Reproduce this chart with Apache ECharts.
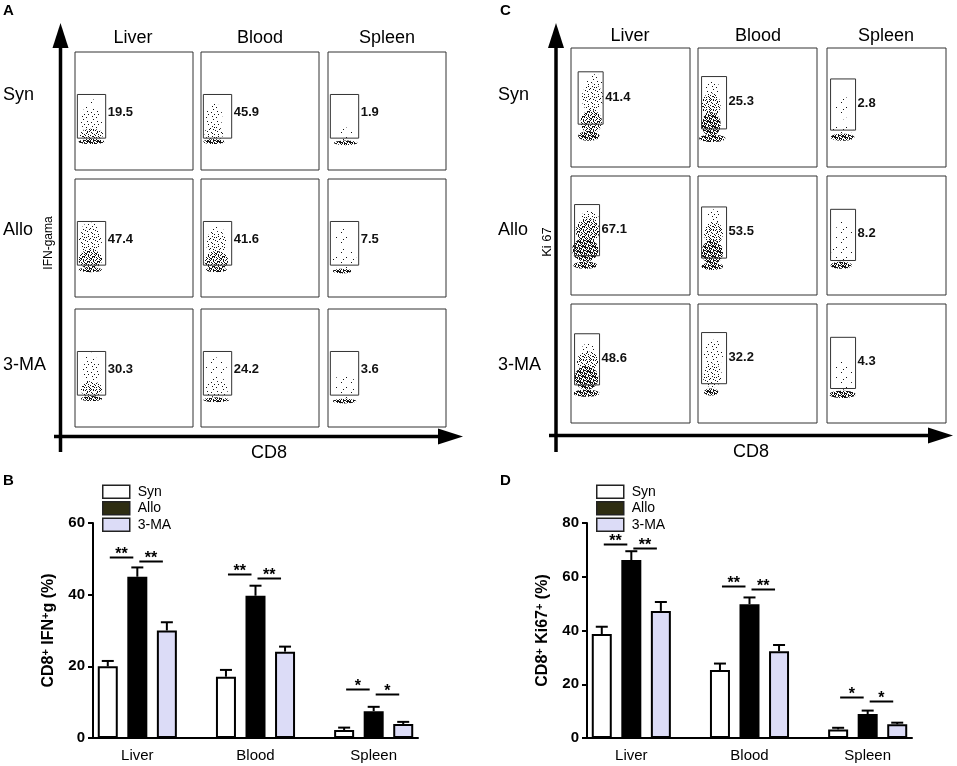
<!DOCTYPE html>
<html>
<head>
<meta charset="utf-8">
<script src="https://cdn.jsdelivr.net/npm/echarts/dist/echarts.min.js"></script>
<style>
html, body { margin: 0; padding: 0; background: #fff; }
#main { width: 957px; height: 766px; }
</style>
</head>
<body>
<div id="main"></div>
<script>
var organs = ['Liver', 'Blood', 'Spleen'];
var groups = ['Syn', 'Allo', '3-MA'];

// A: IFN-gama dot plots, order Syn/Allo/3-MA rows x Liver/Blood/Spleen columns
var ifnGateText = ['19.5', '45.9', '1.9', '47.4', '41.6', '7.5', '30.3', '24.2', '3.6'];
// gate [x0, x1, y0, y1] on a 0-100 scale
var ifnGates = [
    [2, 26, 27, 64], [2, 26, 27, 64], [2, 26, 27, 64],
    [2, 26, 27, 64], [2, 26, 27, 64], [2, 26, 27, 64],
    [2, 26, 27, 64], [2, 26, 27, 64], [2, 26, 27, 64]
];
// event clouds [cx, cy, rx, ry, density 1-6]
var ifnClouds = [
    [[14, 24, 11, 2, 6], [14, 30, 10, 5, 4], [14, 42, 9, 11, 2], [12, 55, 6, 6, 1]],
    [[11, 24, 9, 2, 6], [11, 31, 8, 6, 3], [11, 45, 7, 12, 2]],
    [[15, 23, 10, 2, 6], [15, 30, 8, 6, 1]],
    [[13, 23, 10, 2, 6], [13, 32, 10, 8, 5], [13, 48, 10, 11, 3], [13, 58, 7, 5, 2]],
    [[13, 23, 9, 2, 6], [13, 31, 10, 8, 5], [13, 46, 9, 10, 3], [13, 56, 6, 6, 1]],
    [[12, 22, 8, 2, 6], [14, 32, 10, 9, 1], [12, 50, 6, 8, 1]],
    [[14, 24, 9, 2, 6], [14, 32, 9, 7, 4], [14, 47, 8, 10, 2], [13, 58, 5, 5, 1]],
    [[13, 23, 11, 2, 6], [13, 32, 10, 7, 2], [13, 48, 9, 11, 1]],
    [[14, 22, 10, 2, 6], [14, 35, 9, 11, 1]]
];

// C: Ki 67 dot plots
var ki67GateText = ['41.4', '25.3', '2.8', '67.1', '53.5', '8.2', '48.6', '32.2', '4.3'];
var ki67Gates = [
    [6, 27, 36, 80], [3, 24, 32, 76], [3, 24, 31, 74],
    [3, 24, 33, 76], [3, 24, 31, 74], [3, 24, 29, 72],
    [3, 24, 32, 75], [3, 24, 33, 76], [3, 24, 29, 72]
];
var ki67Clouds = [
    [[15, 26, 9, 4, 6], [17, 38, 9, 10, 5], [18, 58, 9, 12, 3], [20, 72, 7, 6, 2]],
    [[12, 24, 11, 3, 6], [11, 36, 8, 10, 6], [11, 52, 8, 10, 4], [12, 66, 6, 7, 2]],
    [[13, 25, 10, 3, 6], [13, 32, 9, 5, 1], [13, 50, 6, 10, 1]],
    [[12, 25, 10, 3, 6], [12, 38, 11, 10, 6], [14, 54, 10, 10, 5], [16, 66, 7, 5, 3]],
    [[12, 24, 9, 3, 6], [12, 36, 9, 10, 6], [13, 52, 8, 10, 4], [14, 66, 6, 6, 2]],
    [[12, 25, 9, 3, 6], [13, 35, 9, 8, 1], [14, 52, 7, 10, 1]],
    [[13, 25, 11, 3, 6], [13, 38, 10, 10, 6], [14, 52, 9, 8, 4], [15, 62, 6, 5, 2]],
    [[11, 26, 6, 3, 6], [12, 40, 8, 10, 3], [13, 58, 8, 12, 2]],
    [[13, 24, 11, 3, 6], [14, 40, 8, 12, 1]]
];

// B: CD8+ IFN+g (%), Liver/Blood/Spleen
var ifnSyn = [20, 17.1, 2.2];
var ifnSynErr = [1.5, 1.9, 0.7];
var ifnAllo = [45, 39.7, 7.5];
var ifnAlloErr = [2.6, 2.8, 1.2];
var ifnMA = [30, 24.1, 3.9];
var ifnMAErr = [2.3, 1.4, 0.6];
// [slot from, slot to, height, mark]
var ifnSig = [[0, 1, 50.5, '**'], [1, 2, 49.4, '**'], [4, 5, 45.8, '**'], [5, 6, 44.6, '**'], [8, 9, 13.7, '*'], [9, 10, 12.3, '*']];

// D: CD8+ Ki67+ (%)
var ki67Syn = [38.7, 25.3, 3.2];
var ki67SynErr = [2.7, 2.4, 0.6];
var ki67Allo = [66.2, 49.8, 8.9];
var ki67AlloErr = [3.3, 2.5, 1.3];
var ki67MA = [47.3, 32.3, 5.1];
var ki67MAErr = [3.3, 2.3, 0.6];
var ki67Sig = [[0, 1, 72.1, '**'], [1, 2, 70.6, '**'], [4, 5, 56.5, '**'], [5, 6, 55.4, '**'], [8, 9, 15.2, '*'], [9, 10, 13.8, '*']];

var FONT = '"Liberation Sans", Arial, sans-serif';

// dotted textures for the event clouds
var tileDots = [[1, 2], [6, 7], [3, 9], [8, 4], [2, 6], [7, 1], [4, 4], [9, 9], [0, 8], [5, 0], [2, 3], [8, 6],
    [4, 7], [9, 1], [0, 5], [6, 9], [3, 0], [6, 3], [9, 7], [1, 9], [5, 5], [3, 6], [7, 2], [0, 0]];
var tileShifts = [[0, 0], [5, 5], [2, 7], [7, 2]];
function makeTile(n, copies) {
    var c = document.createElement('canvas');
    c.width = 10; c.height = 10;
    var ctx = c.getContext('2d');
    ctx.fillStyle = '#141414';
    for (var k = 0; k < copies; k++) {
        for (var i = 0; i < n; i++) {
            ctx.fillRect((tileDots[i][0] + tileShifts[k][0]) % 10, (tileDots[i][1] + tileShifts[k][1]) % 10, 1, 1);
        }
    }
    return c;
}
var tiles = [null, makeTile(3, 1), makeTile(7, 1), makeTile(13, 1), makeTile(24, 1), makeTile(24, 2), makeTile(24, 4)];

function renderCloud(params, api) {
    var c = api.coord([api.value(0), api.value(1)]);
    var s = api.size([api.value(2), api.value(3)]);
    return {
        type: 'ellipse',
        shape: { cx: c[0], cy: c[1], rx: s[0], ry: s[1] },
        style: { fill: { image: tiles[api.value(4)], repeat: 'repeat' } },
        silent: true
    };
}

function gateRenderer(text, labelOff) {
    return function (params, api) {
        var p0 = api.coord([api.value(0), api.value(3)]);
        var p1 = api.coord([api.value(1), api.value(2)]);
        return {
            type: 'group',
            children: [{
                type: 'rect',
                shape: { x: p0[0], y: p0[1], width: p1[0] - p0[0], height: p1[1] - p0[1] },
                style: { fill: 'none', stroke: '#333', lineWidth: 1 }
            }, {
                type: 'text',
                x: p1[0] + 2,
                y: (p0[1] + p1[1]) / 2 + labelOff,
                style: { text: text, font: 'bold 13px ' + FONT, fill: '#111', verticalAlign: 'middle' }
            }]
        };
    };
}

var grids = [], xAxes = [], yAxes = [], series = [];

function addFlow(lefts, tops, size, gates, clouds, texts, labelOff) {
    for (var i = 0; i < 9; i++) {
        var r = Math.floor(i / 3), c = i % 3;
        var gi = grids.length;
        grids.push({ left: lefts[c], top: tops[r], width: size, height: size, show: true,
            borderColor: '#333', borderWidth: 1, backgroundColor: 'transparent' });
        xAxes.push({ gridIndex: gi, type: 'value', min: 0, max: 100, show: false });
        yAxes.push({ gridIndex: gi, type: 'value', min: 0, max: 100, show: false });
        series.push({ type: 'custom', xAxisIndex: gi, yAxisIndex: gi, renderItem: renderCloud,
            data: clouds[i], silent: true });
        series.push({ type: 'custom', xAxisIndex: gi, yAxisIndex: gi, renderItem: gateRenderer(texts[i], labelOff),
            encode: { x: [0, 1], y: [2, 3] }, data: [gates[i]], silent: true });
    }
}

addFlow([75, 201, 328], [52, 179, 309], 118, ifnGates, ifnClouds, ifnGateText, -4);
addFlow([571, 698, 827], [48, 176, 304], 119, ki67Gates, ki67Clouds, ki67GateText, -1);

// bar charts on 11 slots: 3 bars per organ plus a spacer
var slots = [];
organs.forEach(function (o, oi) {
    groups.forEach(function (g) { slots.push(o + ' ' + g); });
    if (oi < 2) slots.push('gap' + oi);
});

function slotData(vals, g) {
    var d = [];
    for (var s = 0; s < 11; s++) d.push('-');
    vals.forEach(function (v, o) { d[o * 4 + g] = v; });
    return d;
}
function errData(vals, errs, g) {
    return vals.map(function (v, o) { return [o * 4 + g, v, errs[o]]; });
}

function renderErr(params, api) {
    var p = api.coord([api.value(0), api.value(1)]);
    var q = api.coord([api.value(0), api.value(1) + api.value(2)]);
    var st = { stroke: '#000', lineWidth: 2 };
    return {
        type: 'group',
        children: [
            { type: 'line', shape: { x1: p[0], y1: p[1], x2: q[0], y2: q[1] }, style: st },
            { type: 'line', shape: { x1: q[0] - 6, y1: q[1], x2: q[0] + 6, y2: q[1] }, style: st }
        ]
    };
}

function sigRenderer(sig) {
    return function (params, api) {
        var d = sig[params.dataIndex];
        var a = api.coord([d[0], d[2]]);
        var b = api.coord([d[1], d[2]]);
        var y = Math.round(a[1]) + 0.5;
        return {
            type: 'group',
            children: [
                { type: 'line', shape: { x1: a[0] + 2, y1: y, x2: b[0] - 4, y2: y }, style: { stroke: '#000', lineWidth: 2 } },
                { type: 'text', x: (a[0] + b[0]) / 2 - 1, y: y - 3,
                    style: { text: d[3], font: 'bold 16px ' + FONT, fill: '#000', align: 'center', verticalAlign: 'middle' } }
            ]
        };
    };
}

var barStyles = [
    { color: '#ffffff', borderColor: '#000', borderWidth: 2 },
    { color: '#000000', borderColor: '#000', borderWidth: 2 },
    { color: '#dcdcf7', borderColor: '#000', borderWidth: 2 }
];

function addBars(left, max, name, vals, errs, sig) {
    var gi = grids.length;
    grids.push({ left: left, top: 523, width: 325, height: 215 });
    xAxes.push({
        gridIndex: gi, type: 'category', data: slots,
        axisLine: { lineStyle: { color: '#000', width: 2 } },
        axisTick: { alignWithLabel: true, interval: 0, length: 6, lineStyle: { color: '#000', width: 2 } },
        axisLabel: {
            interval: 0, margin: 10, color: '#000', fontSize: 15, fontFamily: FONT,
            formatter: function (v, i) { return i % 4 === 1 ? organs[(i - 1) / 4] : ''; }
        }
    });
    yAxes.push({
        gridIndex: gi, type: 'value', min: 0, max: max, interval: 20,
        name: name, nameLocation: 'middle', nameRotate: 90, nameGap: 36,
        nameTextStyle: {
            color: '#000', fontFamily: FONT,
            rich: {
                a: { fontSize: 16, fontWeight: 'bold', color: '#000', fontFamily: FONT },
                s: { fontSize: 11, fontWeight: 'bold', color: '#000', fontFamily: FONT, verticalAlign: 'top', padding: [0, 0, 6, 0] }
            }
        },
        axisLine: { show: true, lineStyle: { color: '#000', width: 2 } },
        axisTick: { show: true, length: 5, lineStyle: { color: '#000', width: 2 } },
        axisLabel: { color: '#000', fontSize: 15, fontWeight: 'bold', margin: 8, fontFamily: FONT },
        splitLine: { show: false }
    });
    groups.forEach(function (g, k) {
        series.push({
            name: g, type: 'bar', xAxisIndex: gi, yAxisIndex: gi, barWidth: 20, barGap: '-100%',
            itemStyle: barStyles[k], data: slotData(vals[k], k), silent: true
        });
    });
    groups.forEach(function (g, k) {
        series.push({ type: 'custom', xAxisIndex: gi, yAxisIndex: gi, renderItem: renderErr,
            data: errData(vals[k], errs[k], k), silent: true, z: 1 });
    });
    series.push({ type: 'custom', xAxisIndex: gi, yAxisIndex: gi, renderItem: sigRenderer(sig),
        data: sig.map(function (d) { return [d[0], d[2]]; }), silent: true, z: 5 });
}

addBars(93, 60, '{a|CD8}{s|+}{a| IFN}{s|+}{a|g (%)}',
    [ifnSyn, ifnAllo, ifnMA], [ifnSynErr, ifnAlloErr, ifnMAErr], ifnSig);
addBars(587, 80, '{a|CD8}{s|+}{a| Ki67}{s|+}{a| (%)}',
    [ki67Syn, ki67Allo, ki67MA], [ki67SynErr, ki67AlloErr, ki67MAErr], ki67Sig);

var legendData = [
    { name: 'Syn', itemStyle: { color: '#ffffff', borderColor: '#222', borderWidth: 1.5 } },
    { name: 'Allo', itemStyle: { color: '#2e2d12', borderColor: '#222', borderWidth: 1.5 } },
    { name: '3-MA', itemStyle: { color: '#dcdcf7', borderColor: '#222', borderWidth: 1.5 } }
];
function legendAt(left) {
    return {
        left: left, top: 484.5, padding: 0, orient: 'vertical', icon: 'rect', itemWidth: 27, itemHeight: 13, itemGap: 2,
        selectedMode: false, data: legendData, z: 1,
        textStyle: { color: '#000', fontSize: 14, lineHeight: 13, fontFamily: FONT, padding: [0, 0, 0, 3] }
    };
}

// arrows and labels of the dot-plot panels
function arrow(x1, y1, x2, y2) {
    var dx = x2 - x1, dy = y2 - y1, len = Math.sqrt(dx * dx + dy * dy);
    var ux = dx / len, uy = dy / len, hl = 25, hw = 8;
    var bx = x2 - ux * hl, by = y2 - uy * hl;
    return [
        { type: 'line', shape: { x1: x1, y1: y1, x2: bx + ux * 2, y2: by + uy * 2 }, style: { stroke: '#000', lineWidth: 3.5 } },
        { type: 'polygon', shape: { points: [[x2, y2], [bx - uy * hw, by + ux * hw], [bx + uy * hw, by - ux * hw]] }, style: { fill: '#000' } }
    ];
}
function txt(x, y, s, font, opts) {
    var o = { type: 'text', x: x, y: y, silent: true,
        style: { text: s, font: font + ' ' + FONT, fill: '#000', align: 'center', verticalAlign: 'middle' } };
    if (opts) {
        if (opts.align) o.style.align = opts.align;
        if (opts.rotation) o.rotation = opts.rotation;
    }
    return o;
}

var graphics = [];
graphics = graphics.concat(arrow(60.5, 452, 60.5, 23), arrow(54, 436.5, 463, 436.5));
graphics = graphics.concat(arrow(556, 452, 556, 23), arrow(549, 435.5, 953, 435.5));
graphics.push(txt(3, 11, 'A', 'bold 15px', { align: 'left' }));
graphics.push(txt(3, 481, 'B', 'bold 15px', { align: 'left' }));
graphics.push(txt(500, 11, 'C', 'bold 15px', { align: 'left' }));
graphics.push(txt(500, 481, 'D', 'bold 15px', { align: 'left' }));
[133, 260, 387].forEach(function (x, i) { graphics.push(txt(x, 38, organs[i], '18px')); });
[630, 758, 886].forEach(function (x, i) { graphics.push(txt(x, 36, organs[i], '18px')); });
[95, 230, 365].forEach(function (y, i) {
    graphics.push(txt(3, y, groups[i], '18px', { align: 'left' }));
    graphics.push(txt(498, y, groups[i], '18px', { align: 'left' }));
});
graphics.push(txt(49, 243, 'IFN-gama', '12px', { rotation: Math.PI / 2 }));
graphics.push(txt(547, 242, 'Ki 67', '13px', { rotation: Math.PI / 2 }));
graphics.push(txt(269, 453, 'CD8', '18px'));
graphics.push(txt(751, 452, 'CD8', '18px'));

var myChart = echarts.init(document.getElementById('main'));
myChart.setOption({
    animation: false,
    backgroundColor: '#fff',
    textStyle: { fontFamily: FONT },
    grid: grids,
    xAxis: xAxes,
    yAxis: yAxes,
    legend: [legendAt(102), legendAt(596)],
    series: series,
    graphic: graphics
});
window.onresize = myChart.resize;
</script>
</body>
</html>
